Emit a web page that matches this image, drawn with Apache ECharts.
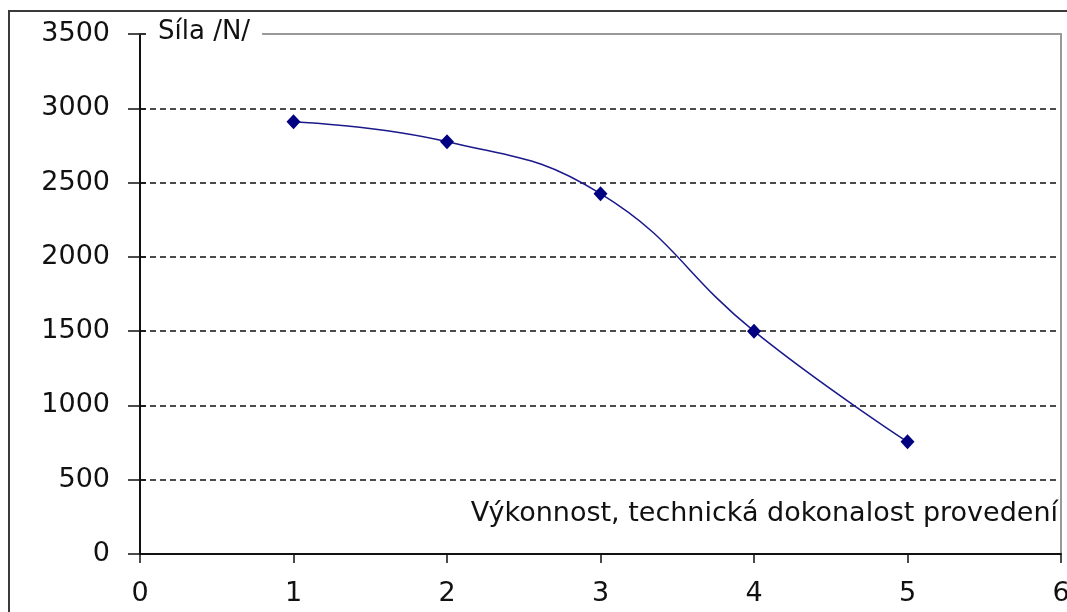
<!DOCTYPE html>
<html>
<head>
<meta charset="utf-8">
<title>Síla /N/</title>
<script src="https://cdn.jsdelivr.net/npm/echarts@6/dist/echarts.min.js"></script>
<style>
  html, body { margin: 0; padding: 0; background: #fff; }
  #chart { width: 1067px; height: 612px; }
</style>
</head>
<body>
<div id="chart"></div>
<script>
// Force (N) against performance / technical refinement level
const xValues = [1, 2, 3, 4, 5];
const forceValues = [2910, 2775, 2425, 1500, 755];
const yAxisName = 'Síla /N/';
const xAxisName = 'Výkonnost, technická dokonalost provedení';
const yTicks = { min: 0, max: 3500, interval: 500 };
const xTicks = { min: 0, max: 6, interval: 1 };

const FONT = 'DejaVu Sans';
const plain = v => String(v);
const chart = echarts.init(document.getElementById('chart'));

chart.setOption({
  animation: false,
  backgroundColor: '#fff',
  title: [
    {
      text: yAxisName,
      left: 146,
      top: 16,
      padding: [1, 12, 1, 12],
      backgroundColor: '#fff',
      textStyle: { fontFamily: FONT, fontSize: 26, fontWeight: 'normal', color: '#111', lineHeight: 30 }
    },
    {
      text: xAxisName,
      right: 9,
      top: 499,
      padding: 0,
      textStyle: { fontFamily: FONT, fontSize: 27, fontWeight: 'normal', color: '#111', lineHeight: 30 }
    }
  ],
  graphic: [
    {
      type: 'rect',
      z: -10,
      silent: true,
      shape: { x: 9, y: 11, width: 1200, height: 800 },
      style: { fill: 'none', stroke: '#3a3a3a', lineWidth: 2 }
    }
  ],
  grid: { left: 140, right: 6, top: 34, bottom: 58, containLabel: false, outerBoundsMode: 'none' },
  xAxis: [
    {
      type: 'value',
      position: 'bottom',
      min: xTicks.min, max: xTicks.max, interval: xTicks.interval,
      axisLine: { show: true, onZero: false, lineStyle: { color: '#111', width: 2 } },
      axisTick: { show: true, inside: false, length: 9, lineStyle: { color: '#111', width: 1.5 } },
      axisLabel: { margin: 26, fontFamily: FONT, fontSize: 27, color: '#111', formatter: plain },
      splitLine: { show: false }
    },
    {
      // plot-area top border
      type: 'value',
      position: 'top',
      min: xTicks.min, max: xTicks.max, interval: xTicks.interval,
      axisLine: { show: true, onZero: false, lineStyle: { color: '#999', width: 2 } },
      axisTick: { show: false },
      axisLabel: { show: false },
      splitLine: { show: false }
    }
  ],
  yAxis: [
    {
      type: 'value',
      position: 'left',
      min: yTicks.min, max: yTicks.max, interval: yTicks.interval,
      axisLine: { show: true, onZero: false, lineStyle: { color: '#111', width: 2 } },
      axisTick: { show: true, inside: false, length: 12, lineStyle: { color: '#111', width: 1.5 } },
      axisLabel: { margin: 30, fontFamily: FONT, fontSize: 27, color: '#111', formatter: plain },
      splitLine: {
        show: true,
        showMinLine: false,
        showMaxLine: false,
        lineStyle: { color: '#111', width: 1.5, type: [6, 4] }
      }
    },
    {
      // plot-area right border
      type: 'value',
      position: 'right',
      min: yTicks.min, max: yTicks.max, interval: yTicks.interval,
      axisLine: { show: true, onZero: false, lineStyle: { color: '#999', width: 2 } },
      axisTick: { show: false },
      axisLabel: { show: false },
      splitLine: { show: false }
    },
    {
      // inner half of the cross ticks on the value axis
      type: 'value',
      position: 'left',
      min: yTicks.min, max: yTicks.max, interval: yTicks.interval,
      axisLine: { show: false },
      axisTick: { show: true, inside: true, length: 6, lineStyle: { color: '#111', width: 1.5 } },
      axisLabel: { show: false },
      splitLine: { show: false }
    }
  ],
  series: [
    {
      type: 'line',
      xAxisIndex: 0,
      yAxisIndex: 0,
      data: xValues.map((x, i) => [x, forceValues[i]]),
      smooth: 0.45,
      symbol: 'diamond',
      symbolSize: [14, 15],
      lineStyle: { color: '#1a1a8c', width: 1.5 },
      itemStyle: { color: '#000080' },
      z: 5
    }
  ]
});
</script>
</body>
</html>
